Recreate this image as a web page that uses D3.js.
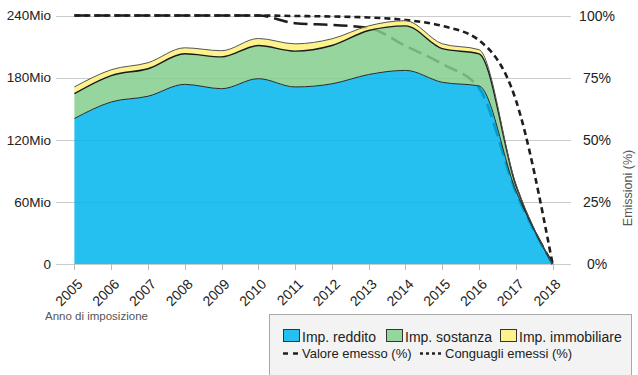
<!DOCTYPE html>
<html>
<head>
<meta charset="utf-8">
<script src="https://cdn.jsdelivr.net/npm/d3@7"></script>
<style>
  body { margin: 0; background: #fff; }
  svg text { font-family: "Liberation Sans", Arial, Helvetica, sans-serif; }
</style>
</head>
<body>
<svg id="chart" width="638" height="375"></svg>
<script>
// Tax years
const years = [2005, 2006, 2007, 2008, 2009, 2010, 2011, 2012, 2013, 2014, 2015, 2016, 2017, 2018];

// Amounts in millions (stacked areas)
const impReddito     = [140.5, 156.5, 162, 173.5, 169.3, 179, 171, 174, 183, 187, 175.5, 172, 71, 0];
const impSostanza    = [24, 25.5, 26.6, 29.5, 30.7, 32, 34.6, 37, 42.5, 43, 32.5, 31, 5, 0];
const impImmobiliare = [6.5, 5.6, 5.8, 5.8, 6, 6.8, 7, 6.5, 4.5, 5, 4.7, 4, 1.5, 0];

// Shares issued (%)
const valoreEmesso    = [100, 100, 100, 100, 100, 100, 96.9, 96.2, 95, 87.8, 80.5, 70.8, 29, 0];
const conguagliEmessi = [100, 100, 100, 100, 100, 100, 99.8, 99.6, 99.2, 98.2, 95.8, 90, 66, 0];

// Axis ticks
const leftTicks  = [0, 60, 120, 180, 240];
const leftLabels = ["0", "60Mio", "120Mio", "180Mio", "240Mio"];
const rightTicks  = [0, 25, 50, 75, 100];
const rightLabels = ["0%", "25%", "50%", "75%", "100%"];

const seriesNames  = ["Imp. reddito", "Imp. sostanza", "Imp. immobiliare"];
const seriesFill   = ["#00B5ED", "#85CE8D", "#FDF077"];
const legendFill   = ["#26C0F0", "#97D59E", "#FDF28B"];
const seriesStroke = ["#2a2a2a", "#1a1a1a", "#555"];

const svg = d3.select("#chart");

const x = d3.scalePoint().domain(years).range([56, 571]).padding(0.5);
const yL = d3.scaleLinear().domain([0, 240]).range([264, 15.5]);
const yR = d3.scaleLinear().domain([0, 100]).range([264, 15.5]);

// Gridlines
svg.append("g").selectAll("line").data(leftTicks).join("line")
  .attr("x1", 56).attr("x2", 571)
  .attr("y1", d => Math.round(yL(d)) + 0.5).attr("y2", d => Math.round(yL(d)) + 0.5)
  .attr("stroke", "#cccccc").attr("stroke-width", 1);

// X tick marks
svg.append("g").selectAll("line").data(years).join("line")
  .attr("x1", d => Math.round(x(d)) + 0.5).attr("x2", d => Math.round(x(d)) + 0.5)
  .attr("y1", 264).attr("y2", 270)
  .attr("stroke", "#bbbbbb");

// Percentage lines (drawn beneath the translucent areas)
const pctLine = d3.line().x((d, i) => x(years[i])).y(d => yR(d)).curve(d3.curveMonotoneX);
svg.append("path").datum(conguagliEmessi)
  .attr("d", pctLine).attr("fill", "none")
  .attr("stroke", "#1e1e1e").attr("stroke-width", 2.6)
  .attr("stroke-dasharray", "6,4");
svg.append("path").datum(valoreEmesso)
  .attr("d", pctLine).attr("fill", "none")
  .attr("stroke", "#1e1e1e").attr("stroke-width", 2.6)
  .attr("stroke-dasharray", "14,6");

// Stacked areas
const table = years.map((yr, i) => ({
  year: yr,
  "Imp. reddito": impReddito[i],
  "Imp. sostanza": impSostanza[i],
  "Imp. immobiliare": impImmobiliare[i]
}));
const stacked = d3.stack().keys(seriesNames)(table);

const area = d3.area()
  .x(d => x(d.data.year)).y0(d => yL(d[0])).y1(d => yL(d[1]))
  .curve(d3.curveMonotoneX);
const topLine = d3.line()
  .x(d => x(d.data.year)).y(d => yL(d[1]))
  .curve(d3.curveMonotoneX);

svg.append("g").selectAll("path").data(stacked).join("path")
  .attr("d", area)
  .attr("fill", (d, i) => seriesFill[i])
  .attr("fill-opacity", 0.85);

svg.append("g").selectAll("path").data(stacked).join("path")
  .attr("d", topLine)
  .attr("fill", "none")
  .attr("stroke", (d, i) => seriesStroke[i])
  .attr("stroke-width", (d, i) => i === 1 ? 1.4 : 1);

// Left axis labels
svg.append("g").selectAll("text").data(leftTicks).join("text")
  .attr("x", 51).attr("y", d => yL(d)).attr("dy", "0.36em")
  .attr("text-anchor", "end").attr("font-size", 13.5).attr("fill", "#222")
  .text((d, i) => leftLabels[i]);

// Right axis labels
svg.append("g").selectAll("text").data(rightTicks).join("text")
  .attr("x", 597).attr("y", d => yR(d)).attr("dy", "0.36em")
  .attr("text-anchor", "middle").attr("font-size", 14).attr("fill", "#222")
  .text((d, i) => rightLabels[i]);

// Year labels
svg.append("g").selectAll("text").data(years).join("text")
  .attr("transform", d => `translate(${x(d) + 9},285) rotate(-45)`)
  .attr("text-anchor", "end").attr("font-size", 14).attr("fill", "#222")
  .text(d => d);

// Axis titles
svg.append("text")
  .attr("x", 45).attr("y", 320)
  .attr("font-size", 11.5).attr("fill", "#555")
  .text("Anno di imposizione");
svg.append("text")
  .attr("transform", "translate(632,188) rotate(-90)")
  .attr("text-anchor", "middle").attr("font-size", 12.5).attr("fill", "#555")
  .text("Emissioni (%)");

// Legend
const lg = svg.append("g");
lg.append("rect")
  .attr("x", 269.5).attr("y", 314.5).attr("width", 362).attr("height", 70)
  .attr("fill", "#f3f3f3").attr("stroke", "#a8a8a8");

const swatchX = [283, 386, 500];
seriesNames.forEach((name, i) => {
  lg.append("rect")
    .attr("x", swatchX[i] + 0.5).attr("y", 329.5).attr("width", 16).attr("height", 12)
    .attr("fill", legendFill[i]).attr("stroke", "#333");
  lg.append("text")
    .attr("x", swatchX[i] + 19).attr("y", 341.5)
    .attr("font-size", 14).attr("fill", "#222")
    .text(name);
});

lg.append("line")
  .attr("x1", 283).attr("x2", 299).attr("y1", 353.5).attr("y2", 353.5)
  .attr("stroke", "#222").attr("stroke-width", 2.6).attr("stroke-dasharray", "5,5");
lg.append("text").attr("x", 302).attr("y", 358).attr("font-size", 13).attr("fill", "#222")
  .text("Valore emesso (%)");
lg.append("line")
  .attr("x1", 420).attr("x2", 441).attr("y1", 353.5).attr("y2", 353.5)
  .attr("stroke", "#222").attr("stroke-width", 2.6).attr("stroke-dasharray", "3,3");
lg.append("text").attr("x", 445).attr("y", 358).attr("font-size", 13).attr("fill", "#222")
  .text("Conguagli emessi (%)");
</script>
</body>
</html>
